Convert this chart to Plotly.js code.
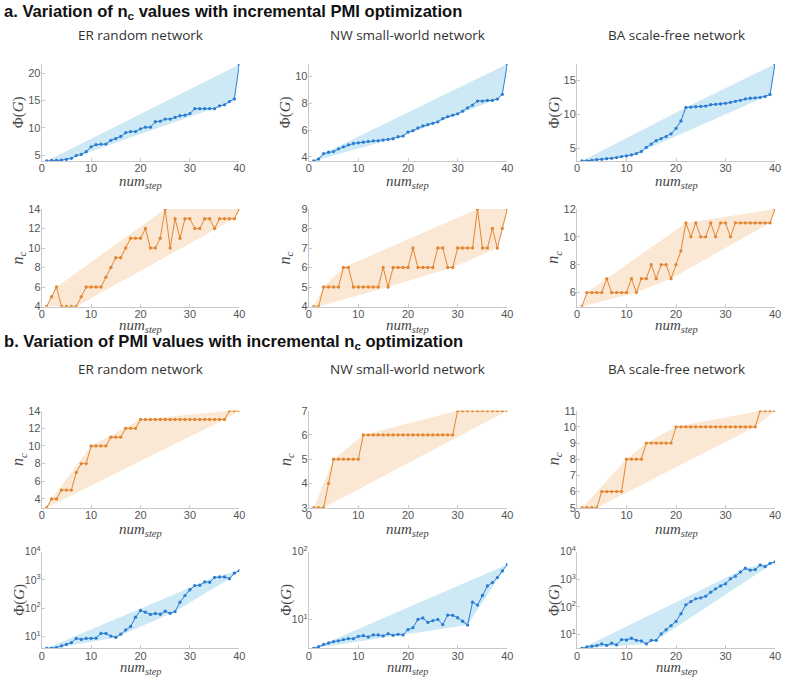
<!DOCTYPE html>
<html><head><meta charset="utf-8">
<script src="https://cdn.plot.ly/plotly-3.0.1.min.js"></script>
<style>html,body{margin:0;padding:0;background:#fff;} #chart{width:799px;height:677px;}</style>
</head><body><div id="chart"></div>
<script>
// ---- data ----
const steps = [1,2,3,4,5,6,7,8,9,10,11,12,13,14,15,16,17,18,19,20,21,22,23,24,25,26,27,28,29,30,31,32,33,34,35,36,37,38,39,40];
const columnTitles = ['ER random network','NW small-world network','BA scale-free network'];
const xTicks = [0,10,20,30,40];

// a. n_c varies with incremental PMI optimization
const erPhiA = [3.9,4.0,4.0,4.05,4.2,4.4,4.9,5.1,5.6,6.5,6.9,7.0,7.0,7.7,8.0,8.4,9.1,9.3,9.3,9.8,10.1,10.1,11.1,11.2,11.6,11.6,11.9,12.2,12.3,12.6,13.5,13.5,13.5,13.5,13.5,14.0,14.2,14.8,15.3,21.6];
const nwPhiA = [3.7,3.85,4.25,4.35,4.4,4.6,4.75,4.9,5.0,5.05,5.1,5.15,5.2,5.2,5.25,5.3,5.35,5.5,5.55,5.85,5.95,6.15,6.3,6.4,6.5,6.6,6.85,7.0,7.1,7.2,7.4,7.65,7.85,8.15,8.15,8.2,8.2,8.3,8.65,10.9];
const baPhiA = [3.1,3.1,3.2,3.3,3.35,3.45,3.5,3.6,3.75,3.85,4.0,4.2,4.5,5.1,5.6,6.1,6.4,6.7,7.1,7.9,9.0,11.0,11.05,11.1,11.15,11.2,11.4,11.45,11.5,11.6,11.75,11.9,12.05,12.25,12.35,12.4,12.45,12.6,12.9,17.4];
const erNcA = [4,5,6,4,4,4,4,5,6,6,6,6,7,8,9,9,10,11,11,11,12,10,10,11,14,10,13,11,13,13,12,12,13,13,12,13,13,13,13,14];
const nwNcA = [4,4,5,5,5,5,6,6,5,5,5,5,5,5,6,5,6,6,6,6,7,6,6,6,6,7,7,6,6,7,7,7,7,9,7,7,8,7,8,9];
const baNcA = [5,6,6,6,6,7,6,6,6,6,7,6,7,7,8,7,8,8,7,8,9,11,10,11,10,10,11,10,11,11,10,11,11,11,11,11,11,11,11,12];

// b. PMI varies with incremental n_c optimization
const erNcB = [3,4,4,5,5,5,7,8,8,10,10,10,10,11,11,11,12,12,12,13,13,13,13,13,13,13,13,13,13,13,13,13,13,13,13,13,13,14,14,14];
const nwNcB = [3,3,3,4,5,5,5,5,5,5,6,6,6,6,6,6,6,6,6,6,6,6,6,6,6,6,6,6,6,7,7,7,7,7,7,7,7,7,7,7];
const baNcB = [5,5,5,5,6,6,6,6,6,8,8,8,8,9,9,9,9,9,9,10,10,10,10,10,10,10,10,10,10,10,10,10,10,10,10,10,11,11,11,11];
const erPhiB = [3.8,3.8,4.0,4.6,5.2,6.0,8.5,7.8,8.5,8.5,8.7,12.8,12.8,10.3,9.2,12,17,22.5,48,83,72,60,65,61,78,66,76,163,280,450,630,650,850,830,1240,1280,1280,1110,1730,2150];
const nwPhiB = [3.8,4.03,4.35,4.55,4.77,4.9,5.1,5.27,5.27,5.7,5.83,5.57,5.97,5.97,5.77,6.24,5.9,6.1,5.97,7.14,7.64,10.1,10.6,9.14,9.7,10.1,8.5,11.7,11.6,10.7,9.5,8.35,18.1,16.4,22.7,31.4,35.2,41.6,52,65];
const baPhiB = [3.2,3.6,3.8,4.0,4.6,4.1,4.9,4.25,6.6,6.4,7.4,6.2,5.9,4.6,6.2,6.2,10.6,15,21,30,57,120,155,198,215,246,343,455,580,690,1040,1300,1860,2520,2140,2250,3300,2880,3800,4260];

// ---- styling ----
const W = 799, H = 677;
const fx = p => p / W, fy = p => 1 - p / H;
const BLUE = '#2c7dd2', BLUE_FILL = '#cde9f5';
const ORANGE = '#e38632', ORANGE_FILL = '#fbe8d4';
const PHI = 'Φ(<i>G</i>)';
const NC = '<i>n</i><sub><i>c</i></sub>';
const NUM = '<i>num</i><sub><i>step</i></sub>';

const colPx = [[41.7,239.3],[308.7,507.3],[577,775]];
const rowPx = [[64,161],[209,306.5],[410.7,507.7],[551.7,648.3]];
const xLabelY = [182, 326, 530, 668];

const panels = [
  {y:erPhiA, c:'b', r:0, k:0, range:[3.9,21.7], tv:[5,10,15,20], lab:PHI},
  {y:nwPhiA, c:'b', r:0, k:1, range:[3.7,10.9], tv:[4,6,8,10], lab:PHI},
  {y:baPhiA, c:'b', r:0, k:2, range:[3.1,17.4], tv:[5,10,15], lab:PHI},
  {y:erNcA, c:'o', r:1, k:0, range:[4,14], tv:[4,6,8,10,12,14], lab:NC},
  {y:nwNcA, c:'o', r:1, k:1, range:[4,9], tv:[4,5,6,7,8,9], lab:NC},
  {y:baNcA, c:'o', r:1, k:2, range:[5,12], tv:[6,8,10,12], lab:NC},
  {y:erNcB, c:'o', r:2, k:0, range:[3,14], tv:[4,6,8,10,12,14], lab:NC},
  {y:nwNcB, c:'o', r:2, k:1, range:[3,7], tv:[3,4,5,6,7], lab:NC},
  {y:baNcB, c:'o', r:2, k:2, range:[5,11], tv:[5,6,7,8,9,10,11], lab:NC},
  {y:erPhiB, c:'b', r:3, k:0, range:[0.58,4], log:true, tv:[10,100,1000,10000], lab:PHI},
  {y:nwPhiB, c:'b', r:3, k:1, range:[0.58,2], log:true, tv:[10,100], lab:PHI},
  {y:baPhiB, c:'b', r:3, k:2, range:[0.505,4], log:true, tv:[10,100,1000,10000], lab:PHI},
];

function hull(xs, ys){
  const pts = xs.map((x,i)=>[x,ys[i]]).sort((a,b)=>a[0]-b[0]||a[1]-b[1]);
  const cr=(o,a,b)=>(a[0]-o[0])*(b[1]-o[1])-(a[1]-o[1])*(b[0]-o[0]);
  const lo=[];for(const p of pts){while(lo.length>=2&&cr(lo[lo.length-2],lo[lo.length-1],p)<=0)lo.pop();lo.push(p);}
  const up=[];for(let i=pts.length-1;i>=0;i--){const p=pts[i];while(up.length>=2&&cr(up[up.length-2],up[up.length-1],p)<=0)up.pop();up.push(p);}
  up.pop();lo.pop();const h=lo.concat(up);h.push(h[0]);return h;
}

const tickFont = {family:'Liberation Sans, Arial, sans-serif', size:11, color:'#555'};
const data = [];
const layout = {
  width:W, height:H, margin:{l:0,r:0,t:0,b:0},
  paper_bgcolor:'#fff', plot_bgcolor:'rgba(0,0,0,0)', showlegend:false,
  annotations:[],
};

panels.forEach((p,i)=>{
  const n = i+1;
  const xa = 'x'+(n===1?'':n), ya = 'y'+(n===1?'':n);
  const line = p.c==='b'?BLUE:ORANGE, fill = p.c==='b'?BLUE_FILL:ORANGE_FILL;
  const hy = p.log ? p.y.map(v=>Math.log10(v)) : p.y;
  const h = hull(steps, hy);
  data.push({x:h.map(q=>q[0]), y:h.map(q=>p.log?Math.pow(10,q[1]):q[1]), xaxis:xa, yaxis:ya,
    type:'scatter', mode:'lines', fill:'toself', fillcolor:fill, line:{width:0,color:fill}, hoverinfo:'skip'});
  data.push({x:steps, y:p.y, xaxis:xa, yaxis:ya, type:'scatter', mode:'lines+markers',
    line:{color:line,width:1}, marker:{color:line,size:3.3}});
  const cx = colPx[p.k], ry = rowPx[p.r];
  const axBase = {showline:true, linecolor:'#c8c8c8', linewidth:1, ticks:'inside', ticklen:3,
    tickcolor:'#c8c8c8', showgrid:false, zeroline:false, tickfont:tickFont};
  layout['xaxis'+(n===1?'':n)] = Object.assign({}, axBase, {domain:[fx(cx[0]),fx(cx[1])], anchor:ya,
    range:[0,40], tickvals:xTicks, ticktext:xTicks.map(String), ticklabelstandoff:-3});
  const yo = Object.assign({}, axBase, {domain:[fy(ry[1]),fy(ry[0])], anchor:xa, range:p.range, tickvals:p.tv,
    ticklabelstandoff:-2});
  if(p.log){ yo.type='log'; yo.ticktext = p.tv.map(v=>'10<sup>'+Math.round(Math.log10(v))+'</sup>');
    yo.tickfont = Object.assign({}, tickFont, {size:10.5}); }
  else { yo.ticktext = p.tv.map(String); }
  layout['yaxis'+(n===1?'':n)] = yo;
  // axis titles
  layout.annotations.push({xref:'paper',yref:'paper',x:fx((cx[0]+cx[1])/2),y:fy(xLabelY[p.r]),
    xanchor:'center',yanchor:'middle',showarrow:false,text:NUM,
    font:{family:'Liberation Serif, serif', size:p.r===3?14.5:15, color:'#444'}});
  layout.annotations.push({xref:'paper',yref:'paper',x:fx(cx[0]-23),y:fy((ry[0]+ry[1])/2),
    xanchor:'center',yanchor:'middle',showarrow:false,textangle:-90,text:p.lab,
    font:{family:'Liberation Serif, serif', size:p.lab===PHI?15:16, color:'#444'}});
});

// section titles
layout.annotations.push({xref:'paper',yref:'paper',x:fx(2),y:fy(12),xanchor:'left',yanchor:'middle',showarrow:false,
  text:'<b>a. Variation of n<sub>c</sub> values with incremental PMI optimization</b>',
  font:{family:'Liberation Sans, Arial, sans-serif',size:16.6,color:'#111'}});
layout.annotations.push({xref:'paper',yref:'paper',x:fx(2),y:fy(342),xanchor:'left',yanchor:'middle',showarrow:false,
  text:'<b>b. Variation of PMI values with incremental n<sub>c</sub> optimization</b>',
  font:{family:'Liberation Sans, Arial, sans-serif',size:16.6,color:'#111'}});
[35,369].forEach(yy=>{
  columnTitles.forEach((t,k)=>{
    layout.annotations.push({xref:'paper',yref:'paper',x:fx((colPx[k][0]+colPx[k][1])/2),y:fy(yy),
      xanchor:'center',yanchor:'middle',showarrow:false,text:t,
      font:{family:'Open Sans, Liberation Sans, sans-serif',size:13.5,color:'#333'}});
  });
});

Plotly.newPlot('chart', data, layout, {displayModeBar:false, staticPlot:true});
</script>
</body></html>
